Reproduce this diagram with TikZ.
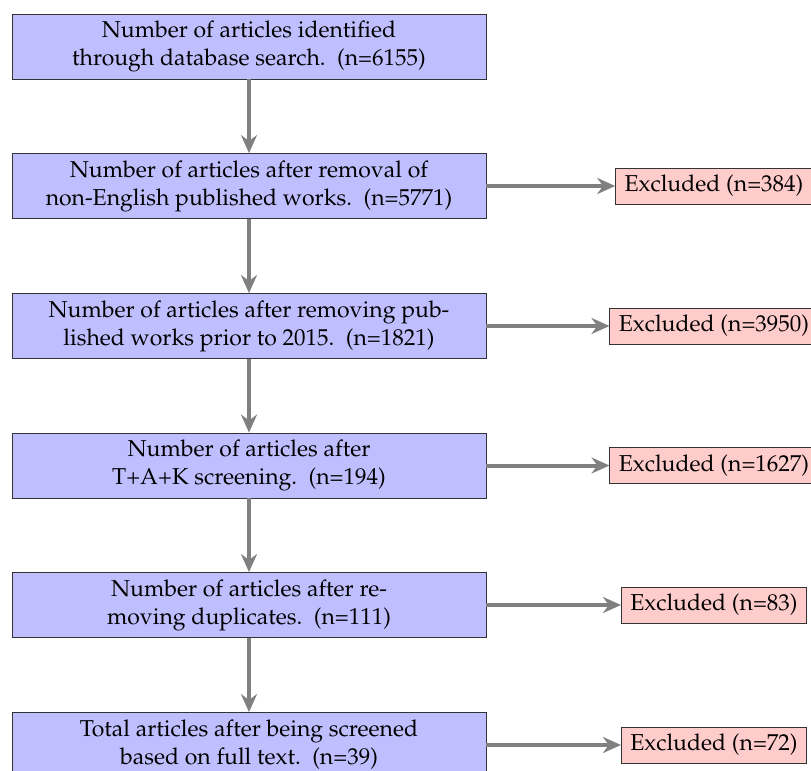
\documentclass[tikz,border=0pt]{standalone}
\usepackage[T1]{fontenc}
\usepackage{mathpazo}
\usepackage{tikz}
\usetikzlibrary{positioning}
\usetikzlibrary{shapes,arrows,arrows.meta}
\usetikzlibrary{calc}

\tikzset{
  stagebox/.style={draw=black!80, fill=blue!25, align=center, font=\fontsize{11.5}{14}\selectfont, minimum width=237pt, minimum height=32.5pt, inner sep=2pt},
  exclbox/.style={draw=black!80, fill=red!20, font=\fontsize{11.5}{14}\selectfont, minimum height=18pt, inner xsep=4.5pt, inner ysep=3pt},
  flowarrow/.style={draw=gray, line width=2pt, -{Stealth[length=9pt,width=8pt]}}
}

\begin{document}
\begin{tikzpicture}[x=0.5pt,y=-0.5pt]
\useasboundingbox (0,0) rectangle (811,771);
% Stages
\node[stagebox] (ident) at (249,46.5) {Number of articles identified\\through database search.\ \ (n=6155)};
\node[stagebox] (english) at (249,186) {Number of articles after removal of\\non-English published works.\ \ (n=5771)};
\node[stagebox] (recent) at (249,326) {Number of articles after removing pub-\\lished works prior to 2015.\ \ (n=1821)};
\node[stagebox] (tak) at (249,465.5) {Number of articles after\\T+A+K screening.\ \ (n=194)};
\node[stagebox] (dupl) at (249,605) {Number of articles after re-\\moving duplicates.\ \ (n=111)};
\node[stagebox] (fulltext) at (249,745) {Total articles after being screened\\based on full text.\ \ (n=39)};
% Exclusions
\node[exclbox] (excl1) at (714,186) {Excluded (n=384)};
\node[exclbox] (excl2) at (714,326) {Excluded (n=3950)};
\node[exclbox] (excl3) at (714,465.5) {Excluded (n=1627)};
\node[exclbox] (excl4) at (714,605) {Excluded (n=83)};
\node[exclbox] (excl5) at (714,745) {Excluded (n=72)};
% Arrows
\draw[flowarrow] (ident) -- (english);
\draw[flowarrow] (english) -- (recent);
\draw[flowarrow] (recent) -- (tak);
\draw[flowarrow] (tak) -- (dupl);
\draw[flowarrow] (dupl) -- (fulltext);
\draw[flowarrow] (english) -- (excl1);
\draw[flowarrow] (recent) -- (excl2);
\draw[flowarrow] (tak) -- (excl3);
\draw[flowarrow] (dupl) -- (excl4);
\draw[flowarrow] (fulltext) -- (excl5);
\end{tikzpicture}
\end{document}
